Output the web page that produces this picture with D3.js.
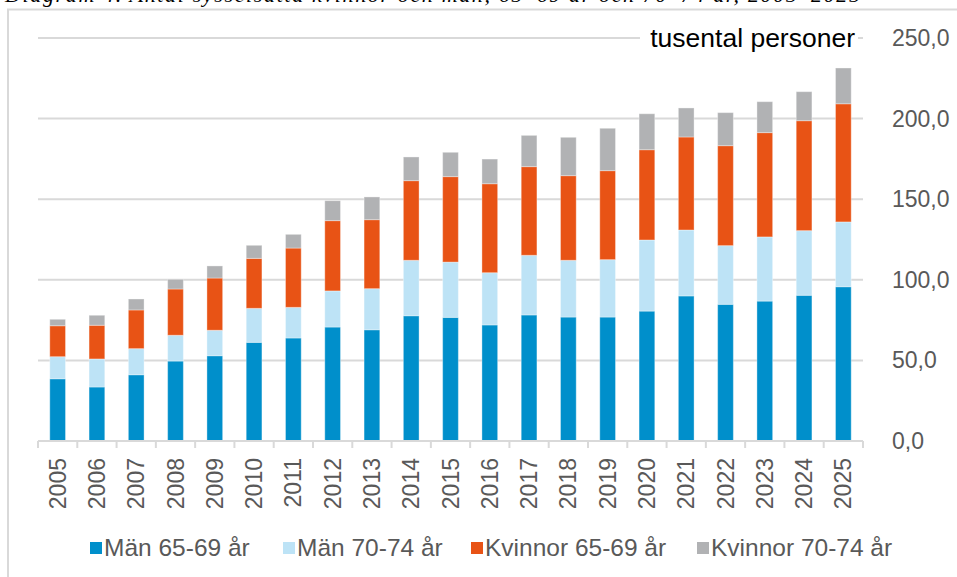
<!DOCTYPE html>
<html>
<head>
<meta charset="utf-8">
<script src="https://cdn.jsdelivr.net/npm/d3@7"></script>
<style>
  body { margin: 0; background: #fff; }
  svg { display: block; }
</style>
</head>
<body>
<script>
// values (tusental personer)
var years = ["2005","2006","2007","2008","2009","2010","2011","2012","2013","2014","2015",
             "2016","2017","2018","2019","2020","2021","2022","2023","2024","2025"];
var man6569 = [38.6,33.5,41.1,49.6,52.9,61.2,63.9,70.7,69.0,77.7,76.7,72.0,78.2,76.9,76.9,80.6,90.0,84.8,86.8,90.4,95.7];
var man7074 = [13.7,17.4,16.2,16.0,15.8,21.1,19.0,22.4,25.5,34.4,34.3,32.4,37.0,35.2,35.6,44.1,40.9,36.4,39.8,40.1,40.2];
var kv6569  = [19.2,20.9,24.0,28.7,32.4,31.0,36.8,43.6,42.8,49.4,53.0,55.2,55.0,52.5,55.2,56.0,57.7,62.0,64.7,68.2,73.3];
var kv7074  = [4.0,6.2,6.8,6.0,7.5,8.1,8.5,12.4,14.1,14.7,15.1,15.3,19.4,23.8,26.3,22.3,18.0,20.5,19.2,18.0,22.2];
var seriesNames = ["Män 65-69 år","Män 70-74 år","Kvinnor 65-69 år","Kvinnor 70-74 år"];
var colors = ["#008fcb","#bde3f6","#e85315","#b1b2b4"];
var yTicks = [0,50,100,150,200,250];

var W = 957, H = 577;
var svg = d3.select("body").append("svg")
  .attr("width", W)
  .attr("height", H)

// build rows for the stack
var rows = years.map(function(y, i) {
  return { year: y, s0: man6569[i], s1: man7074[i], s2: kv6569[i], s3: kv7074[i] };
});
var stack = d3.stack().keys(["s0","s1","s2","s3"])(rows);

var x = d3.scaleBand().domain(years).range([38, 863]).paddingInner(0.6).paddingOuter(0.3);
var xb = d3.scaleBand().domain(years).range([38, 863]);
var y = d3.scaleLinear().domain([0, 250]).range([441, 38]);

// title (cut off at the top, like the source)
svg.append("text")
  .text("Diagram 4. Antal sysselsatta kvinnor och män, 65–69 år och 70–74 år, 2005–2025")
  .attr("x", 5)
  .attr("y", 2)
  .attr("font-family", "Liberation Serif, Times New Roman, serif")
  .attr("font-style", "italic")
  .attr("font-size", 22)
  .attr("textLength", 855)
  .attr("fill", "#000")

// chart frame
svg.append("rect")
  .attr("x", 8).attr("y", 9.5)
  .attr("width", 1000).attr("height", 600)
  .attr("fill", "none")
  .attr("stroke", "#d9d9d9")
  .attr("stroke-width", 2)

// grid
svg.append("g").selectAll("line")
  .data(yTicks.filter(function(d) { return d > 0; }))
  .join("line")
  .attr("x1", 38).attr("x2", 863)
  .attr("y1", function(d) { return y(d); })
  .attr("y2", function(d) { return y(d); })
  .attr("stroke", "#d9d9d9")
  .attr("stroke-width", 2)

// unit label with white box over the top gridline
var unit = svg.append("g");
unit.append("rect")
  .attr("x", 640).attr("y", 27)
  .attr("width", 218).attr("height", 26)
  .attr("fill", "#fff")
unit.append("text")
  .text("tusental personer")
  .attr("x", 855)
  .attr("y", 47)
  .attr("text-anchor", "end")
  .attr("font-family", "Liberation Sans, Arial, sans-serif")
  .attr("font-size", 26.5)
  .attr("fill", "#000")

// bars
svg.append("g").selectAll("g")
  .data(stack)
  .join("g")
  .attr("fill", function(d, i) { return colors[i]; })
  .selectAll("rect")
  .data(function(d) { return d; })
  .join("rect")
  .attr("x", function(d) { return x(d.data.year); })
  .attr("width", x.bandwidth())
  .attr("y", function(d) { return y(d[1]); })
  .attr("height", function(d) { return y(d[0]) - y(d[1]); })
  .attr("stroke", "rgba(255,255,255,0.35)")
  .attr("stroke-width", 1)

// x axis line and ticks
svg.append("line")
  .attr("x1", 38).attr("x2", 863)
  .attr("y1", y(0)).attr("y2", y(0))
  .attr("stroke", "#d9d9d9").attr("stroke-width", 2)
svg.append("g").selectAll("line")
  .data(years.concat(["end"]))
  .join("line")
  .attr("x1", function(d, i) { return 38 + i * xb.step(); })
  .attr("x2", function(d, i) { return 38 + i * xb.step(); })
  .attr("y1", y(0)).attr("y2", y(0) + 7)
  .attr("stroke", "#d9d9d9").attr("stroke-width", 2)

// x labels, rotated
svg.append("g").selectAll("text")
  .data(years)
  .join("text")
  .text(function(d) { return d; })
  .attr("transform", function(d) {
    return "translate(" + (xb(d) + xb.bandwidth() / 2 + 8) + ",458) rotate(-90)";
  })
  .attr("text-anchor", "end")
  .attr("font-family", "Liberation Sans, Arial, sans-serif")
  .attr("font-size", 23)
  .attr("fill", "#595959")

// y labels on the right
svg.append("g").selectAll("text")
  .data(yTicks)
  .join("text")
  .text(function(d) { return d3.format(".1f")(d).replace(".", ","); })
  .attr("x", 892)
  .attr("y", function(d) { return y(d) + 8; })
  .attr("font-family", "Liberation Sans, Arial, sans-serif")
  .attr("font-size", 23)
  .attr("fill", "#595959")

// legend
var legX = [90, 283, 471, 697];
var leg = svg.append("g").selectAll("g")
  .data(seriesNames)
  .join("g")
  .attr("transform", function(d, i) { return "translate(" + legX[i] + ",542)"; });
leg.append("rect")
  .attr("width", 12).attr("height", 12)
  .attr("fill", function(d, i) { return colors[i]; })
leg.append("text")
  .text(function(d) { return d; })
  .attr("x", 14)
  .attr("y", 14)
  .attr("font-family", "Liberation Sans, Arial, sans-serif")
  .attr("font-size", 24.5)
  .attr("fill", "#595959")
</script>
</body>
</html>
